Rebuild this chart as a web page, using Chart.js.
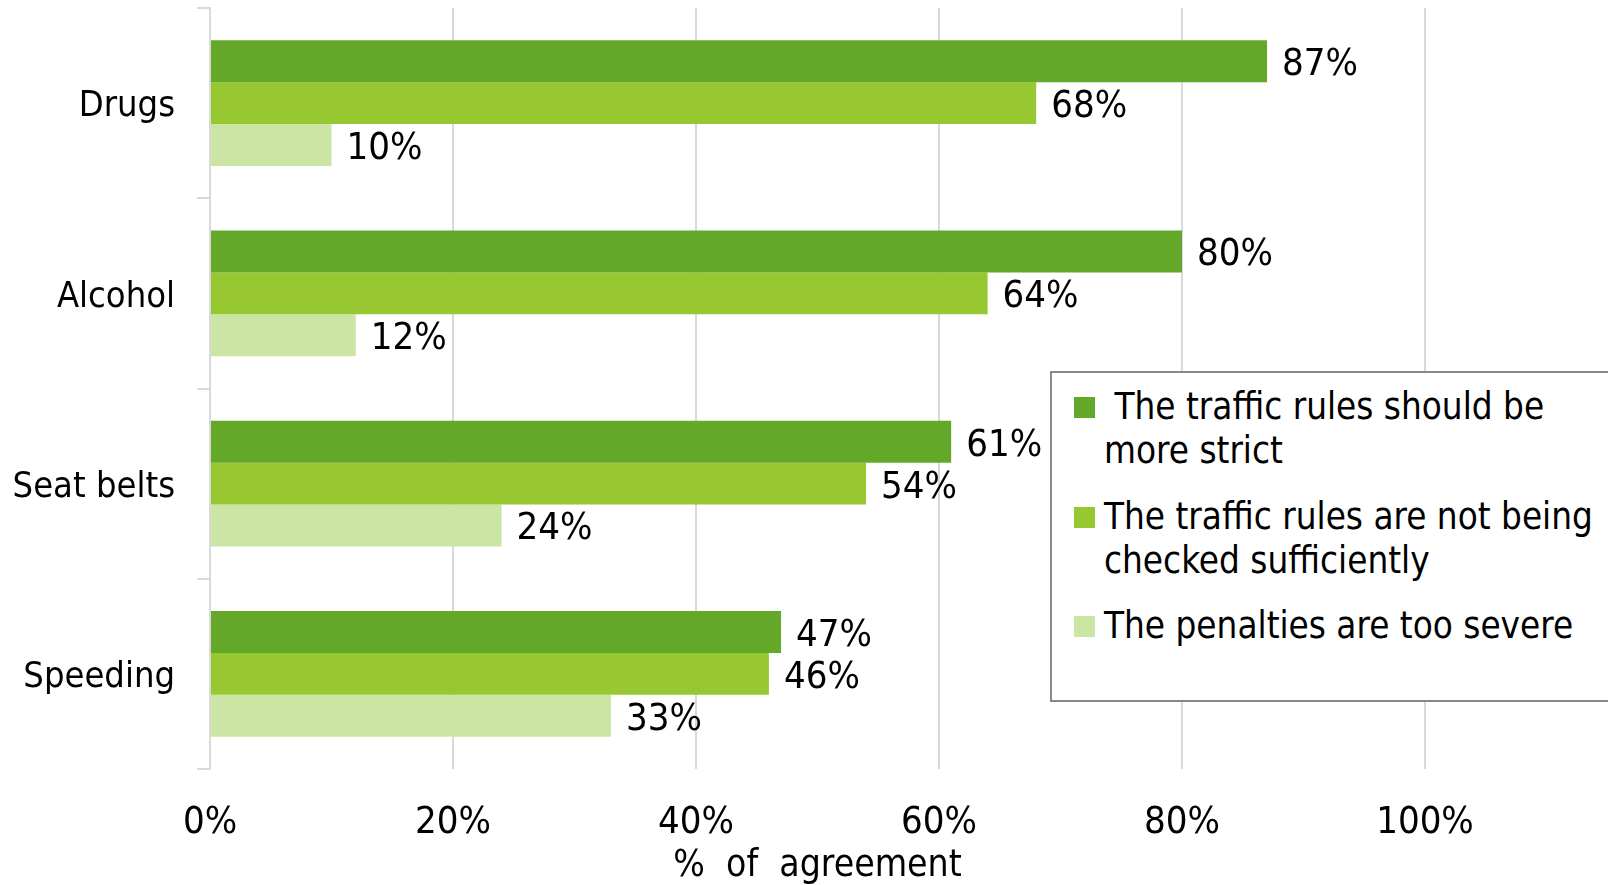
<!DOCTYPE html>
<html>
<head>
<meta charset="utf-8">
<script src="https://cdn.jsdelivr.net/npm/chart.js@4.4.0/dist/chart.umd.min.js"></script>
<style>
  html, body { margin: 0; padding: 0; background: #fff; }
  .wrap { position: relative; width: 1608px; height: 885px; overflow: hidden; }
  #legend {
    position: absolute; left: 1050px; top: 371px; width: 600px; height: 331px;
    border: 2px solid #888; background: #fff; box-sizing: border-box;
    font-family: "DejaVu Sans Condensed", "DejaVu Sans", sans-serif; font-size: 36.5px; color: #000;
  }
  .item { position: absolute; left: 22px; line-height: 44px; white-space: pre; }
  .item .sw { position: absolute; left: 0; top: 12px; width: 21px; height: 21px; }
  .item .txt { margin-left: 30px; }
</style>
</head>
<body>
<div class="wrap">
  <canvas id="myChart" width="1608" height="885"></canvas>
  <div id="legend"></div>
</div>
<script>
const categories = ['Drugs', 'Alcohol', 'Seat belts', 'Speeding'];
const stricter = [87, 80, 61, 47];
const notChecked = [68, 64, 54, 46];
const tooSevere = [10, 12, 24, 33];
const seriesNames = ['The traffic rules should be more strict', 'The traffic rules are not being checked sufficiently', 'The penalties are too severe'];
const legendLines = [[' The traffic rules should be', 'more strict'], ['The traffic rules are not being', 'checked sufficiently'], ['The penalties are too severe']];
const xTicks = [0, 20, 40, 60, 80, 100];

const colors = ['#64a82a', '#97c832', '#cbe6a4'];
const font = '"DejaVu Sans Condensed", "DejaVu Sans", sans-serif';

// value labels to the right of each bar
const barLabels = {
  id: 'barLabels',
  afterDatasetsDraw(chart) {
    const ctx = chart.ctx;
    ctx.save();
    ctx.font = '38px ' + font;
    ctx.fillStyle = '#000';
    ctx.textBaseline = 'middle';
    ctx.textAlign = 'left';
    chart.data.datasets.forEach((ds, i) => {
      chart.getDatasetMeta(i).data.forEach((bar, j) => {
        ctx.fillText(ds.data[j] + '%', bar.x + 15, bar.y + 4);
      });
    });
    ctx.restore();
  }
};

const chart = new Chart(document.getElementById('myChart'), {
  type: 'bar',
  data: {
    labels: categories,
    datasets: [
      { label: seriesNames[0], data: stricter, backgroundColor: colors[0] },
      { label: seriesNames[1], data: notChecked, backgroundColor: colors[1] },
      { label: seriesNames[2], data: tooSevere, backgroundColor: colors[2] }
    ]
  },
  options: {
    indexAxis: 'y',
    responsive: false,
    animation: false,
    layout: { padding: { top: 8, right: 183, left: 0, bottom: 0 } },
    datasets: { bar: { categoryPercentage: 0.66, barPercentage: 1, borderWidth: 0 } },
    plugins: { legend: { display: false }, tooltip: { enabled: false } },
    scales: {
      x: {
        min: 0, max: 100,
        afterBuildTicks: (axis) => { axis.ticks = xTicks.map(v => ({ value: v })); },
        afterFit: (axis) => { axis.height = 116; },
        grid: { color: '#d9d9d9', lineWidth: 2, drawTicks: false },
        border: { display: false },
        ticks: { color: '#000', font: { family: font, size: 38 }, padding: 31, callback: v => v + '%' },
        title: { display: true, text: '%  of  agreement', color: '#000', font: { family: font, size: 37, lineHeight: 1.0 }, padding: 0 }
      },
      y: {
        afterFit: (axis) => { axis.width = 210; axis.paddingTop = 0; axis.paddingBottom = 0; },
        grid: { color: '#d9d9d9', lineWidth: 2, drawOnChartArea: false, tickLength: 13 },
        border: { color: '#d9d9d9', width: 2 },
        ticks: { color: '#000', font: { family: font, size: 36 }, padding: 22, labelOffset: 4 }
      }
    }
  },
  plugins: [barLabels]
});

// legend box
const legend = document.getElementById('legend');
const tops = [12, 122, 231];
chart.data.datasets.forEach((ds, i) => {
  const item = document.createElement('div');
  item.className = 'item';
  item.style.top = tops[i] + 'px';
  const sw = document.createElement('div');
  sw.className = 'sw';
  sw.style.background = ds.backgroundColor;
  const txt = document.createElement('div');
  txt.className = 'txt';
  txt.textContent = legendLines[i].join('\n');
  item.appendChild(sw);
  item.appendChild(txt);
  legend.appendChild(item);
});
</script>
</body>
</html>
